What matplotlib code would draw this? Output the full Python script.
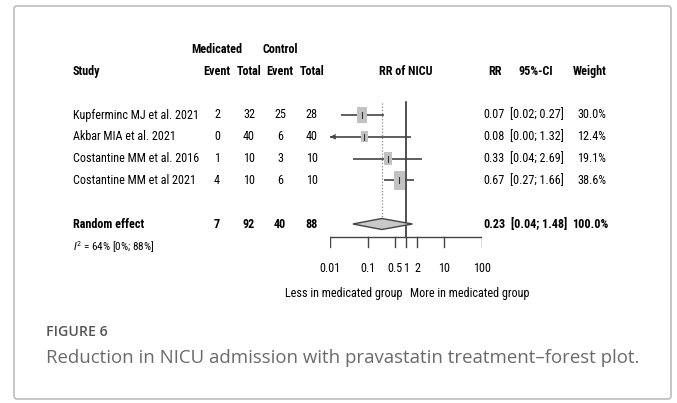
import numpy as np
import matplotlib
matplotlib.use("Agg")
import matplotlib.pyplot as plt
from matplotlib.patches import FancyBboxPatch

# data
studies = ["Kupferminc MJ et al. 2021", "Akbar MIA et al. 2021",
           "Costantine MM et al. 2016", "Costantine MM et al 2021"]
med_event = [2, 0, 1, 4]
med_total = [32, 40, 10, 10]
ctl_event = [25, 6, 3, 6]
ctl_total = [28, 40, 10, 10]
rr = [0.07, 0.08, 0.33, 0.67]
rr_lo = [0.02, 0.00, 0.04, 0.27]
rr_hi = [0.27, 1.32, 2.69, 1.66]
weight = [30.0, 12.4, 19.1, 38.6]

pooled = 0.23
pooled_lo = 0.04
pooled_hi = 1.48
pooled_counts = [7, 92, 40, 88]
i2_text = r"$I^2$ = 64% [0%; 88%]"

ticks = [0.01, 0.1, 0.5, 1, 2, 10, 100]
tick_labels = ["0.01", "0.1", "0.5", "1", "2", "10", "100"]

fam = ["Roboto Condensed", "Liberation Sans", "DejaVu Sans"]
fs = 8.7
cap_fam = ["Open Sans", "DejaVu Sans"]
plt.rcParams["mathtext.fontset"] = "custom"
plt.rcParams["mathtext.it"] = "Roboto Condensed:italic"
plt.rcParams["mathtext.rm"] = "Roboto Condensed"

fig = plt.figure(figsize=(6.77, 4.03), dpi=100)
ax = fig.add_axes([0, 0, 1, 1])
ax.set_xlim(0, 677)
ax.set_ylim(403, 0)
ax.axis("off")

# outer frame
ax.add_patch(FancyBboxPatch((14, 6), 657, 393, boxstyle="round,pad=0,rounding_size=3",
                            fc="white", ec="#bdbdbd", lw=1.2))

# forest panel, log scale, y in pixels like the text axes
fa = fig.add_axes([330 / 677, 0, (482 - 330) / 677, 1])
fa.set_xscale("log")
fa.set_xlim(0.01, 100)
fa.set_ylim(403, 0)
fa.axis("off")
fa.patch.set_alpha(0)

y0, dy = 115, 21.8
rows = y0 + dy * np.arange(len(studies))
y_pool = y0 + dy * 5
y_i2 = y0 + dy * 6 + 1
y_head = y0 - dy * 2
y_head2 = y0 - dy * 3

# headers
ax.text(73, y_head, "Study", fontsize=fs, fontweight="bold", family=fam, va="center")
ax.text(217, y_head2, "Medicated", fontsize=fs, fontweight="bold", family=fam, va="center", ha="center")
ax.text(280, y_head2, "Control", fontsize=fs, fontweight="bold", family=fam, va="center", ha="center")
for xc, lab in zip([217, 249, 280, 312], ["Event", "Total", "Event", "Total"]):
    ax.text(xc, y_head, lab, fontsize=fs, fontweight="bold", family=fam, va="center", ha="center")
ax.text(495, y_head, "RR", fontsize=fs, fontweight="bold", family=fam, va="center", ha="center")
ax.text(536, y_head, "95%-CI", fontsize=fs, fontweight="bold", family=fam, va="center", ha="center")
ax.text(590, y_head, "Weight", fontsize=fs, fontweight="bold", family=fam, va="center", ha="center")
fa.text(1, y_head, "RR of NICU", fontsize=fs, fontweight="bold", family=fam, va="center", ha="center")

# study rows
for i, y in enumerate(rows):
    ax.text(73, y, studies[i], fontsize=fs, family=fam, va="center")
    for xc, v in zip([217, 249, 280, 312], [med_event[i], med_total[i], ctl_event[i], ctl_total[i]]):
        ax.text(xc, y, str(v), fontsize=fs, family=fam, va="center", ha="center")
    ax.text(505, y, f"{rr[i]:.2f}", fontsize=fs, family=fam, va="center", ha="right")
    ax.text(510, y, f"[{rr_lo[i]:.2f}; {rr_hi[i]:.2f}]", fontsize=fs, family=fam, va="center")
    ax.text(606, y, f"{weight[i]:.1f}%", fontsize=fs, family=fam, va="center", ha="right")

    lo = max(rr_lo[i], 0.01)
    fa.plot([lo, rr_hi[i]], [y, y], color="#444444", lw=1.2, solid_capstyle="butt", zorder=2)
    if rr_lo[i] < 0.01:
        fa.annotate("", xy=(0.01, y), xytext=(0.014, y),
                    arrowprops=dict(arrowstyle="->", color="#444444", lw=1.0,
                                    mutation_scale=7, shrinkA=0, shrinkB=0))
    fa.plot([rr[i], rr[i]], [y - 3, y + 3], color="#333333", lw=0.8, zorder=4)

# study boxes, area proportional to weight (image is stretched vertically)
box = [(-0.3, -0.5), (0.3, -0.5), (0.3, 0.5), (-0.3, 0.5)]
fa.scatter(rr, rows, s=[4.8 * w for w in weight], marker=box, color="#c2c2c2",
           linewidths=0, zorder=3)

# pooled row
ax.text(73, y_pool, "Random effect", fontsize=fs, fontweight="bold", family=fam, va="center")
for xc, v in zip([217, 249, 280, 312], pooled_counts):
    ax.text(xc, y_pool, str(v), fontsize=fs, fontweight="bold", family=fam, va="center", ha="center")
ax.text(506, y_pool, f"{pooled:.2f}", fontsize=fs, fontweight="bold", family=fam, va="center",
        ha="right")
ax.text(511, y_pool, f"[{pooled_lo:.2f}; {pooled_hi:.2f}]", fontsize=fs, fontweight="bold",
        family=fam, va="center")
ax.text(608, y_pool, "100.0%", fontsize=fs, fontweight="bold", family=fam, va="center", ha="right")
ax.text(73, y_i2, i2_text, fontsize=fs - 0.6, family=fam, va="center")

fa.fill([pooled_lo, pooled, pooled_hi, pooled],
        [y_pool, y_pool - 5.5, y_pool, y_pool + 5.5],
        fc="#c8c8c8", ec="#444444", lw=1.0, zorder=3)

# reference lines
fa.plot([pooled, pooled], [103, y_pool - 5.5], color="#888888", lw=0.9, ls=(0, (1, 1.5)), zorder=1)
y_axis = 237
fa.plot([1, 1], [102, y_axis], color="#222222", lw=1.1, zorder=1)

# axis drawn like R meta
fa.plot([0.01, 100], [y_axis, y_axis], color="#444444", lw=1.0)
for t, lab in zip(ticks, tick_labels):
    fa.plot([t, t], [y_axis, y_axis + 10], color="#444444", lw=1.0)
    fa.text(t, 269, lab, fontsize=fs, family=fam, va="center", ha="center")
fa.text(0.8, 293, "Less in medicated group", fontsize=fs, family=fam, va="center", ha="right")
fa.text(1.25, 293, "More in medicated group", fontsize=fs, family=fam, va="center", ha="left")

# caption
ax.text(46, 332, "FIGURE 6", fontsize=10.2, fontweight="semibold", family=cap_fam,
        color="#555555", va="center")
ax.text(46, 358, "Reduction in NICU admission with pravastatin treatment\u2013forest plot.",
        fontsize=13.4, family=cap_fam, color="#6a6a6a", va="center")

fig.savefig("out.png", dpi=100)
